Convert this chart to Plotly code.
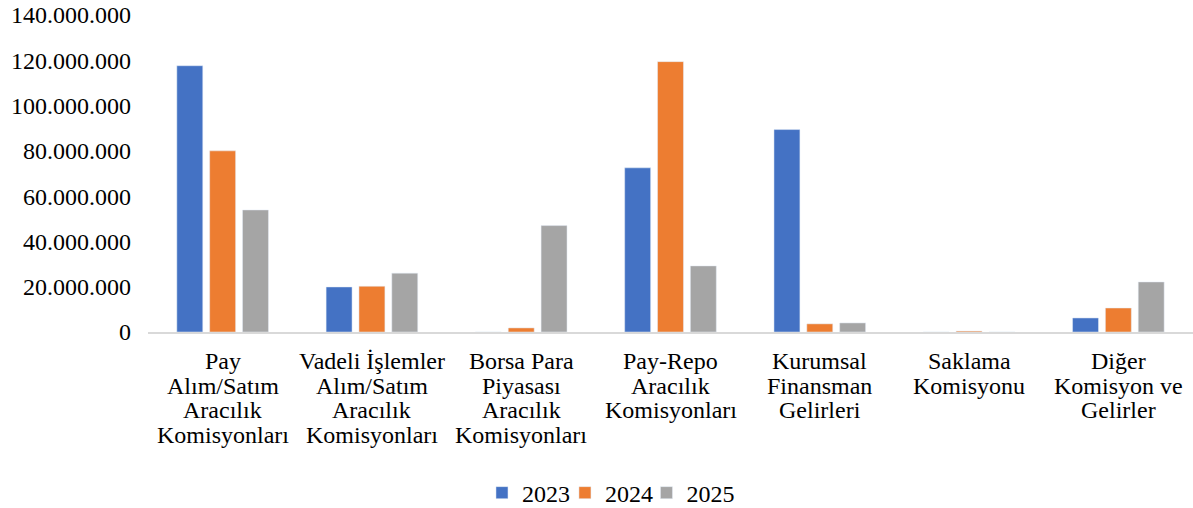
import plotly.graph_objects as go

# categories and the lines of their labels
categories = [
    "Pay Alım/Satım Aracılık Komisyonları",
    "Vadeli İşlemler Alım/Satım Aracılık Komisyonları",
    "Borsa Para Piyasası Aracılık Komisyonları",
    "Pay-Repo Aracılık Komisyonları",
    "Kurumsal Finansman Gelirleri",
    "Saklama Komisyonu",
    "Diğer Komisyon ve Gelirler",
]
label_lines = [
    ["Pay", "Alım/Satım", "Aracılık", "Komisyonları"],
    ["Vadeli İşlemler", "Alım/Satım", "Aracılık", "Komisyonları"],
    ["Borsa Para", "Piyasası", "Aracılık", "Komisyonları"],
    ["Pay-Repo", "Aracılık", "Komisyonları"],
    ["Kurumsal", "Finansman", "Gelirleri"],
    ["Saklama", "Komisyonu"],
    ["Diğer", "Komisyon ve", "Gelirler"],
]

years = ["2023", "2024", "2025"]
colors = ["#4472C4", "#ED7D31", "#A5A5A5"]

# values
v2023 = [117600000, 19900000, 0, 72500000, 89400000, 0, 6200000]
v2024 = [80000000, 20200000, 1800000, 119400000, 3600000, 400000, 10600000]
v2025 = [53900000, 26000000, 47000000, 29200000, 4000000, 0, 22100000]

fnt = "Liberation Serif"

fig = go.Figure()
legend_ids = ["legend", "legend2", "legend3"]
for yr, vals, col, lg in zip(years, [v2023, v2024, v2025], colors, legend_ids):
    fig.add_trace(go.Bar(name=yr, x=categories, y=vals, marker_color=col,
                         legend=lg, showlegend=True))

# category labels, one line per annotation (Excel-like tight line spacing)
for cat, lines in zip(categories, label_lines):
    for i, ln in enumerate(lines):
        fig.add_annotation(x=cat, y=0, xref="x", yref="paper", text=ln,
                           showarrow=False, xanchor="center", yanchor="middle",
                           yshift=-(29 + 24.5 * i),
                           font=dict(family=fnt, size=24, color="#000000"))

# one small legend per year so the entries sit close together like in Excel
leg_x = [0.3196, 0.3990, 0.4770]
legends = {}
for lg, lx in zip(legend_ids, leg_x):
    legends[lg] = dict(orientation="h", x=lx, xanchor="left", y=-0.508, yanchor="middle",
                       font=dict(family=fnt, size=24), itemwidth=30,
                       bgcolor="rgba(0,0,0,0)")

fig.update_layout(
    width=1193, height=508,
    showlegend=True,
    barmode="group", bargap=0.34, bargroupgap=0.21,
    separators=",.",
    paper_bgcolor="white", plot_bgcolor="white",
    font=dict(family=fnt, size=24, color="#000000"),
    margin=dict(l=148, r=0, t=15, b=176, autoexpand=False),
    xaxis=dict(showline=True, linecolor="#D9D9D9", linewidth=1.5, ticks="",
               showticklabels=False),
    yaxis=dict(range=[0, 140000000], dtick=20000000, tickformat=",d",
               showgrid=False, zeroline=False, showline=False, automargin=False,
               tickfont=dict(family=fnt, size=24), ticklabelstandoff=16),
    **legends,
)

# drop the browser's default 8px body margin so the figure sits at (0, 0)
fig.write_html("out.html", config={"displayModeBar": False},
               post_script="document.body.style.margin='0';")
